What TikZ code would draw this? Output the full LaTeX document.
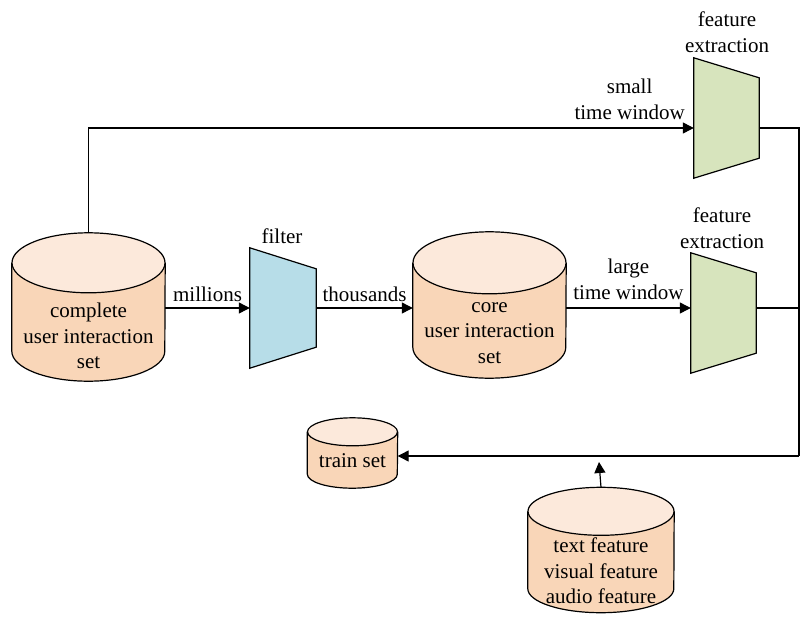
\documentclass[tikz,border=0pt]{standalone}
\usepackage{fontspec}
\setmainfont{Liberation Serif}
\usetikzlibrary{arrows.meta,positioning}

\definecolor{peachtop}{RGB}{252,233,219}
\definecolor{peach}{RGB}{249,214,184}
\definecolor{filterblue}{RGB}{183,221,232}
\definecolor{featgreen}{RGB}{215,228,189}

\tikzset{
    store/.style={rectangle, inner sep=0pt},
    storetext/.style={align=center, inner sep=0pt},
    drum/.style={draw=black, line width=1.2pt},
    squeeze/.style={rectangle, inner sep=0pt, minimum width=65pt, minimum height=120pt},
    funnel/.style={draw=black, line width=1.2pt, line join=miter},
    flow/.style={line width=1.2pt, -{Triangle[length=11pt,width=11pt]}},
    wire/.style={line width=1.2pt},
    tag/.style={align=center, inner sep=2pt}
}

\begin{document}
\begin{tikzpicture}[x=1pt, y=-1pt, font=\fontsize{21}{25.5}\selectfont]
    \useasboundingbox (0,0) rectangle (809,624);

    % data sets
    \node[store, minimum width=153pt, minimum height=148pt] (complete) at (88.5,307) {};
    \node[store, minimum width=153pt, minimum height=146pt] (core) at (489.5,305) {};
    \node[store, minimum width=90pt, minimum height=70pt] (train) at (352.5,453) {};
    \node[store, minimum width=146pt, minimum height=125pt] (feat) at (601,550) {};
    \foreach \n/\a/\r in {complete/76.5pt/30pt, core/76.5pt/31pt, train/45pt/14pt, feat/73pt/24pt} {
        \draw[drum, fill=peach] ([yshift=-\r]\n.north west) -- ([yshift=\r]\n.south west)
            arc[start angle=180, end angle=360, x radius=\a, y radius=\r]
            -- ([yshift=-\r]\n.north east);
        \draw[drum, fill=peachtop] ([yshift=-\r]\n.north) ellipse[x radius=\a, y radius=\r];
    }
    \node[storetext] (completetext) at ([yshift=-29pt]complete.center) {complete\\user interaction\\set};
    \node[storetext] (coretext) at ([yshift=-28pt]core.center) {core\\user interaction\\set};
    \node[storetext] (traintext) at ([yshift=-8pt]train.center) {train set};
    \node[storetext] (feattext) at ([yshift=-21pt]feat.center) {text feature\\visual feature\\audio feature};

    % filter and extractors
    \node[squeeze, minimum width=66pt] (filter) at (283,308) {};
    \node[squeeze] (fe1) at (726.5,118) {};
    \node[squeeze] (fe2) at (723.5,313) {};
    \draw[funnel, fill=filterblue] (filter.north west) -- ([yshift=-21pt]filter.north east)
        -- ([yshift=21pt]filter.south east) -- (filter.south west) -- cycle;
    \foreach \fe in {fe1,fe2}
        \draw[funnel, fill=featgreen] (\fe.north west) -- ([yshift=-20pt]\fe.north east)
            -- ([yshift=20pt]\fe.south east) -- (\fe.south west) -- cycle;

    \node[tag] (filtertag) at (282,236) {filter};
    \node[tag] (fe1tag) at (727,32) {feature\\extraction};
    \node[tag] (fe2tag) at (722,228) {feature\\extraction};

    \coordinate (join) at (799,456);
    \coordinate (merge) at (599,462);

    % connectors
    \draw[flow] (complete.east |- filter.west) -- node[tag, above=4pt] {millions} (filter.west);
    \draw[flow] (filter.east) -- node[tag, above=4pt] {thousands} (core.west |- filter.east);
    \draw[flow] (core.east |- filter.east) -- node[tag, above=6pt] {large\\time window} (filter.east -| fe2.west);
    \draw[flow] (complete.north) |- node[tag, above=6pt, pos=0.947] {small\\time window} ([yshift=-10pt]fe1.west);
    \draw[wire] ([yshift=-10pt]fe1.east) -| (join);
    \draw[wire] (filter.east -| fe2.east) -- (filter.east -| join);
    \draw[flow] (join) -- (join -| train.east);
    \draw[flow] (feat.north) -- (merge);
\end{tikzpicture}
\end{document}
